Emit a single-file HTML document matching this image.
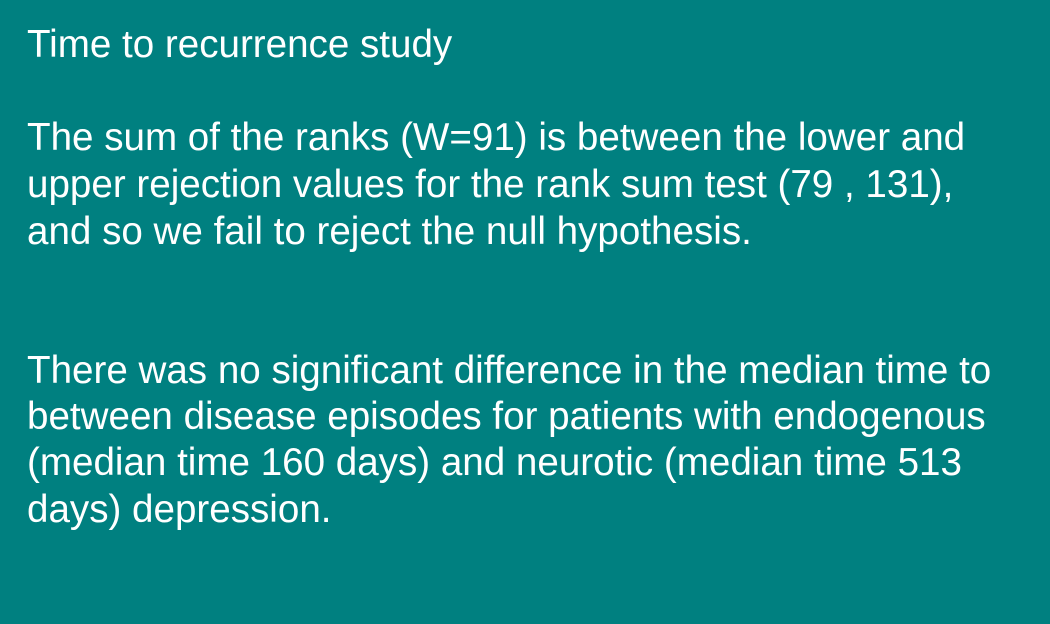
<!DOCTYPE html>
<html><head><meta charset="utf-8">
<style>
html,body{margin:0;padding:0}
body{width:1050px;height:624px;background:#008080;position:relative;overflow:hidden;font-family:"Liberation Sans",Arial,sans-serif;color:#fff}
.l{position:absolute;left:27px;font-size:38.6px;line-height:46px;white-space:nowrap}
</style></head><body>
<div class="l" style="top:22px">Time to recurrence study</div>
<div>
<div class="l" style="top:115px">The sum of the ranks (W=91) is between the lower and</div>
<div class="l" style="top:162px">upper rejection values for the rank sum test (79 , 131),</div>
<div class="l" style="top:209px">and so we fail to reject the null hypothesis.</div>
</div>
<div>
<div class="l" style="top:348px">There was no significant difference in the median time to</div>
<div class="l" style="top:394px">between disease episodes for patients with endogenous</div>
<div class="l" style="top:440px">(median time 160 days) and neurotic (median time 513</div>
<div class="l" style="top:487px">days) depression.</div>
</div>
</body></html>
